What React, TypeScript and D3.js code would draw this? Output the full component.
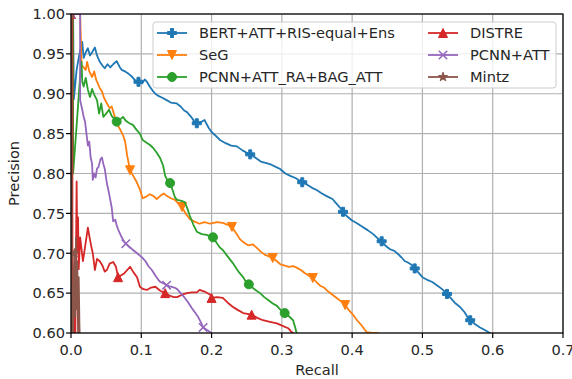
import React, { useEffect, useRef } from 'react';
import * as d3 from 'd3';

type Pt = [number, number];

// recall, precision pairs
const bertAttRis: Pt[] = [
  [0, 1.0], [0.003, 1.0], [0.004, 0.893], [0.008, 0.93], [0.012, 0.95], [0.016, 0.965], [0.018, 0.945],
  [0.021, 0.952], [0.024, 0.957], [0.027, 0.948], [0.03, 0.952], [0.034, 0.958], [0.037, 0.948],
  [0.041, 0.94], [0.045, 0.935], [0.048, 0.932], [0.052, 0.937], [0.056, 0.933], [0.06, 0.937],
  [0.065, 0.941], [0.069, 0.934], [0.072, 0.93], [0.077, 0.928], [0.082, 0.925], [0.086, 0.922],
  [0.091, 0.917], [0.096, 0.915], [0.101, 0.913], [0.105, 0.918], [0.108, 0.915], [0.112, 0.909],
  [0.117, 0.903], [0.12, 0.9], [0.125, 0.897], [0.13, 0.895], [0.136, 0.892], [0.142, 0.889],
  [0.15, 0.888], [0.156, 0.884], [0.161, 0.879], [0.165, 0.877], [0.17, 0.872], [0.175, 0.866],
  [0.179, 0.863], [0.184, 0.864], [0.19, 0.867], [0.196, 0.857], [0.2, 0.852], [0.205, 0.848],
  [0.212, 0.842], [0.22, 0.838], [0.228, 0.835], [0.236, 0.834], [0.244, 0.829], [0.25, 0.826],
  [0.255, 0.824], [0.262, 0.82], [0.27, 0.815], [0.278, 0.813], [0.285, 0.811], [0.292, 0.808],
  [0.297, 0.806], [0.305, 0.8], [0.312, 0.797], [0.32, 0.794], [0.329, 0.789], [0.336, 0.786],
  [0.343, 0.782], [0.35, 0.779], [0.357, 0.775], [0.365, 0.771], [0.372, 0.768], [0.378, 0.762],
  [0.383, 0.757], [0.387, 0.752], [0.393, 0.746], [0.4, 0.741], [0.408, 0.737], [0.415, 0.733],
  [0.422, 0.729], [0.43, 0.724], [0.436, 0.719], [0.442, 0.715], [0.448, 0.709], [0.454, 0.705],
  [0.46, 0.703], [0.464, 0.7], [0.47, 0.695], [0.475, 0.69], [0.478, 0.689], [0.484, 0.686],
  [0.489, 0.681], [0.495, 0.675], [0.5, 0.67], [0.506, 0.667], [0.514, 0.664], [0.522, 0.659],
  [0.528, 0.655], [0.535, 0.649], [0.54, 0.644], [0.546, 0.638], [0.553, 0.633], [0.56, 0.626],
  [0.564, 0.62], [0.568, 0.616], [0.575, 0.611], [0.582, 0.607], [0.588, 0.604], [0.596, 0.6],
  [0.6, 0.597],
];
const bertMarks = [0.096, 0.179, 0.255, 0.329, 0.387, 0.442, 0.489, 0.535, 0.568];

const seg: Pt[] = [
  [0, 1.0], [0.013, 1.0], [0.014, 0.97], [0.015, 0.936], [0.018, 0.933], [0.021, 0.93], [0.023, 0.94],
  [0.026, 0.928], [0.03, 0.921], [0.033, 0.928], [0.036, 0.917], [0.041, 0.907], [0.044, 0.903],
  [0.047, 0.895], [0.051, 0.888], [0.055, 0.882], [0.058, 0.884], [0.061, 0.875], [0.065, 0.863],
  [0.07, 0.855], [0.074, 0.848], [0.077, 0.84], [0.08, 0.822], [0.084, 0.804], [0.088, 0.798],
  [0.093, 0.79], [0.098, 0.78], [0.102, 0.769], [0.107, 0.771], [0.112, 0.774], [0.117, 0.772],
  [0.122, 0.768], [0.127, 0.772], [0.132, 0.775], [0.136, 0.772], [0.142, 0.769], [0.148, 0.767],
  [0.153, 0.762], [0.158, 0.758], [0.163, 0.75], [0.169, 0.743], [0.175, 0.74], [0.183, 0.737],
  [0.19, 0.739], [0.198, 0.737], [0.208, 0.739], [0.216, 0.738], [0.222, 0.736], [0.229, 0.733],
  [0.235, 0.725], [0.24, 0.718], [0.245, 0.714], [0.252, 0.71], [0.259, 0.711], [0.264, 0.707],
  [0.27, 0.702], [0.276, 0.698], [0.282, 0.696], [0.287, 0.694], [0.293, 0.69], [0.298, 0.686],
  [0.302, 0.685], [0.31, 0.683], [0.316, 0.684], [0.321, 0.682], [0.327, 0.679], [0.333, 0.675],
  [0.338, 0.672], [0.344, 0.669], [0.35, 0.663], [0.355, 0.659], [0.36, 0.657], [0.366, 0.652],
  [0.372, 0.648], [0.378, 0.644], [0.384, 0.64], [0.39, 0.635], [0.396, 0.628], [0.402, 0.622],
  [0.407, 0.616], [0.413, 0.61], [0.418, 0.604], [0.421, 0.601], [0.428, 0.6], [0.437, 0.6],
  [0.44, 0.597],
];
const segMarks = [0.084, 0.158, 0.229, 0.287, 0.344, 0.39];

const pcnnRaBag: Pt[] = [
  [0, 1.0], [0.003, 1.0], [0.003, 0.8], [0.008, 0.86], [0.012, 0.91], [0.015, 0.94], [0.016, 0.915],
  [0.018, 0.909], [0.021, 0.92], [0.024, 0.905], [0.027, 0.896], [0.03, 0.906], [0.033, 0.899],
  [0.037, 0.892], [0.04, 0.875], [0.043, 0.888], [0.046, 0.871], [0.05, 0.875], [0.054, 0.88],
  [0.058, 0.872], [0.062, 0.868], [0.065, 0.865], [0.069, 0.867], [0.074, 0.871], [0.078, 0.866],
  [0.083, 0.863], [0.088, 0.861], [0.093, 0.855], [0.098, 0.85], [0.102, 0.842], [0.107, 0.839],
  [0.112, 0.836], [0.117, 0.832], [0.122, 0.826], [0.127, 0.819], [0.131, 0.81], [0.134, 0.797],
  [0.137, 0.792], [0.141, 0.788], [0.145, 0.778], [0.148, 0.77], [0.151, 0.767], [0.156, 0.766],
  [0.162, 0.764], [0.166, 0.755], [0.169, 0.747], [0.174, 0.736], [0.179, 0.727], [0.186, 0.724],
  [0.193, 0.723], [0.202, 0.72], [0.208, 0.712], [0.212, 0.707], [0.216, 0.704], [0.222, 0.697],
  [0.23, 0.688], [0.236, 0.68], [0.24, 0.675], [0.245, 0.67], [0.249, 0.664], [0.253, 0.661],
  [0.258, 0.657], [0.264, 0.653], [0.269, 0.65], [0.275, 0.645], [0.281, 0.641], [0.287, 0.637],
  [0.293, 0.634], [0.299, 0.628], [0.304, 0.625], [0.31, 0.621], [0.316, 0.616], [0.319, 0.607],
  [0.321, 0.6], [0.322, 0.595],
];
const pcnnRaBagMarks = [0.065, 0.141, 0.202, 0.253, 0.304];

const distre: Pt[] = [
  [0, 1.0], [0.002, 1.0], [0.002, 0.56], [0.004, 0.63], [0.006, 0.58], [0.008, 0.79], [0.009, 0.7],
  [0.01, 0.745], [0.011, 0.68], [0.013, 0.72], [0.015, 0.705], [0.017, 0.69], [0.02, 0.708],
  [0.022, 0.72], [0.024, 0.732], [0.027, 0.717], [0.029, 0.708], [0.031, 0.7], [0.034, 0.679],
  [0.037, 0.693], [0.041, 0.69], [0.045, 0.684], [0.048, 0.677], [0.051, 0.679], [0.055, 0.687],
  [0.06, 0.689], [0.064, 0.683], [0.067, 0.67], [0.071, 0.672], [0.076, 0.675], [0.08, 0.679],
  [0.084, 0.683], [0.089, 0.676], [0.094, 0.67], [0.098, 0.658], [0.103, 0.655], [0.108, 0.654],
  [0.114, 0.657], [0.12, 0.658], [0.127, 0.653], [0.134, 0.65], [0.14, 0.647], [0.146, 0.645],
  [0.151, 0.645], [0.158, 0.648], [0.165, 0.65], [0.172, 0.651], [0.179, 0.651], [0.183, 0.654],
  [0.19, 0.652], [0.198, 0.648], [0.2, 0.644], [0.208, 0.645], [0.216, 0.644], [0.223, 0.638],
  [0.23, 0.633], [0.237, 0.629], [0.245, 0.625], [0.251, 0.624], [0.257, 0.623], [0.265, 0.619],
  [0.273, 0.616], [0.283, 0.614], [0.293, 0.612], [0.301, 0.609], [0.309, 0.606], [0.313, 0.602],
  [0.316, 0.6], [0.318, 0.595],
];
const distreMarks = [0, 0.067, 0.134, 0.2, 0.257];

const pcnnAtt: Pt[] = [
  [0, 1.0], [0.013, 1.0], [0.013, 0.892], [0.016, 0.88], [0.018, 0.871], [0.02, 0.865], [0.022, 0.85],
  [0.024, 0.835], [0.026, 0.84], [0.028, 0.82], [0.03, 0.812], [0.031, 0.792], [0.033, 0.8],
  [0.035, 0.795], [0.037, 0.806], [0.039, 0.808], [0.042, 0.818], [0.044, 0.82], [0.046, 0.812],
  [0.048, 0.806], [0.051, 0.788], [0.053, 0.78], [0.055, 0.771], [0.058, 0.757], [0.06, 0.74],
  [0.063, 0.742], [0.065, 0.735], [0.067, 0.73], [0.071, 0.722], [0.074, 0.717], [0.078, 0.712],
  [0.082, 0.709], [0.087, 0.705], [0.094, 0.7], [0.098, 0.697], [0.102, 0.694], [0.106, 0.69],
  [0.11, 0.684], [0.115, 0.679], [0.12, 0.672], [0.124, 0.667], [0.127, 0.664], [0.132, 0.662],
  [0.136, 0.66], [0.142, 0.658], [0.147, 0.657], [0.151, 0.655], [0.156, 0.65], [0.162, 0.644],
  [0.167, 0.638], [0.172, 0.631], [0.177, 0.625], [0.181, 0.62], [0.185, 0.613], [0.188, 0.607],
  [0.193, 0.604], [0.2, 0.6], [0.203, 0.597],
];
const pcnnAttMarks = [0, 0.078, 0.136, 0.188];

const mintz: Pt[] = [
  [0, 1.0], [0.001, 1.0], [0.001, 0.57], [0.002, 0.66], [0.003, 0.59], [0.004, 0.68], [0.005, 0.7],
  [0.006, 0.62], [0.007, 0.72], [0.008, 0.63], [0.009, 0.69], [0.01, 0.6], [0.011, 0.67],
  [0.012, 0.61], [0.013, 0.58],
];
const mintzMarks = [0, 0.005];

const seriesNames = ['BERT+ATT+RIS-equal+Ens', 'SeG', 'PCNN+ATT_RA+BAG_ATT', 'DISTRE', 'PCNN+ATT', 'Mintz'];
const seriesColors = ['#1f77b4', '#ff7f0e', '#2ca02c', '#d62728', '#9467bd', '#8c564b'];
const seriesMarkers = ['plus', 'triDown', 'circle', 'triUp', 'x', 'star'];
const seriesData = [bertAttRis, seg, pcnnRaBag, distre, pcnnAtt, mintz];
const seriesMarks = [bertMarks, segMarks, pcnnRaBagMarks, distreMarks, pcnnAttMarks, mintzMarks];

const xTicks = [0, 0.1, 0.2, 0.3, 0.4, 0.5, 0.6, 0.7];
const yTicks = [0.6, 0.65, 0.7, 0.75, 0.8, 0.85, 0.9, 0.95, 1.0];

const W = 572;
const H = 379;
const FONT = '"DejaVu Sans", sans-serif';
const FS = 14.6;

const markerPath = (kind: string, r: number): string => {
  if (kind === 'plus') {
    const a = r / 3;
    return `M${-a},${-r}L${a},${-r}L${a},${-a}L${r},${-a}L${r},${a}L${a},${a}L${a},${r}L${-a},${r}L${-a},${a}L${-r},${a}L${-r},${-a}L${-a},${-a}Z`;
  }
  if (kind === 'triDown') return `M${-r},${-r}L${r},${-r}L0,${r}Z`;
  if (kind === 'triUp') return `M0,${-r}L${r},${r}L${-r},${r}Z`;
  if (kind === 'x') return `M${-r},${-r}L${r},${r}M${-r},${r}L${r},${-r}`;
  if (kind === 'star') {
    const pts: string[] = [];
    for (let i = 0; i < 10; i++) {
      const rr = i % 2 === 0 ? r * 1.05 : r * 0.42;
      const a = (i * Math.PI) / 5;
      pts.push(`${rr * Math.sin(a)},${-rr * Math.cos(a)}`);
    }
    return 'M' + pts.join('L') + 'Z';
  }
  return d3.symbol(d3.symbolCircle, Math.PI * r * r)() as string;
};

const App: React.FC = () => {
  const svgRef = useRef<SVGSVGElement>(null);

  useEffect(() => {
    if (!svgRef.current) return;
    const svg = d3.select(svgRef.current);
    svg.selectAll('*').remove();

    const margin = { top: 14, right: 9, bottom: 46, left: 71 };
    const width = W - margin.left - margin.right;
    const height = H - margin.top - margin.bottom;

    const x = d3.scaleLinear().domain([0, 0.7]).range([0, width]);
    const y = d3.scaleLinear().domain([0.6, 1.0]).range([height, 0]);

    svg.append('rect').attr('width', W).attr('height', H).attr('fill', '#fff');

    const defs = svg.append('defs');
    defs.append('clipPath').attr('id', 'plot-clip')
      .append('rect').attr('width', width).attr('height', height);

    const g = svg.append('g').attr('transform', `translate(${margin.left},${margin.top})`);

    // grid
    g.append('g').selectAll('line').data(xTicks).join('line')
      .attr('x1', d => x(d)).attr('x2', d => x(d)).attr('y1', 0).attr('y2', height)
      .attr('stroke', '#b0b0b0').attr('stroke-width', 1.2);
    g.append('g').selectAll('line').data(yTicks).join('line')
      .attr('y1', d => y(d)).attr('y2', d => y(d)).attr('x1', 0).attr('x2', width)
      .attr('stroke', '#b0b0b0').attr('stroke-width', 1.2);

    const plot = g.append('g').attr('clip-path', 'url(#plot-clip)');
    const line = d3.line<Pt>().x(d => x(d[0])).y(d => y(d[1]));

    seriesData.forEach((pts, i) => {
      const color = seriesColors[i];
      plot.append('path').datum(pts)
        .attr('d', line)
        .attr('fill', 'none')
        .attr('stroke', color)
        .attr('stroke-width', 1.8)
        .attr('stroke-linejoin', 'round');

      const markPts = seriesMarks[i].map(r => {
        let best = pts[0];
        pts.forEach(p => { if (Math.abs(p[0] - r) < Math.abs(best[0] - r)) best = p; });
        return best;
      });
      const isX = seriesMarkers[i] === 'x';
      plot.append('g').selectAll('path').data(markPts).join('path')
        .attr('transform', d => `translate(${x(d[0])},${y(d[1])})`)
        .attr('d', markerPath(seriesMarkers[i], isX ? 4.2 : 4.5))
        .attr('fill', isX ? 'none' : color)
        .attr('stroke', color)
        .attr('stroke-width', isX ? 1.5 : 1);
    });

    // spines
    g.append('rect').attr('width', width).attr('height', height)
      .attr('fill', 'none').attr('stroke', '#000').attr('stroke-width', 1.2);

    // ticks
    g.append('g').selectAll('line').data(xTicks).join('line')
      .attr('x1', d => x(d)).attr('x2', d => x(d)).attr('y1', height).attr('y2', height + 5)
      .attr('stroke', '#000').attr('stroke-width', 1.2);
    g.append('g').selectAll('line').data(yTicks).join('line')
      .attr('y1', d => y(d)).attr('y2', d => y(d)).attr('x1', -5).attr('x2', 0)
      .attr('stroke', '#000').attr('stroke-width', 1.2);

    g.append('g').selectAll('text').data(xTicks).join('text')
      .attr('x', d => x(d)).attr('y', height + 22)
      .attr('text-anchor', 'middle')
      .style('font-family', FONT).style('font-size', `${FS}px`).attr('fill', '#262626')
      .text(d => d3.format('.1f')(d));
    g.append('g').selectAll('text').data(yTicks).join('text')
      .attr('x', -6).attr('y', d => y(d)).attr('dy', '0.36em')
      .attr('text-anchor', 'end')
      .style('font-family', FONT).style('font-size', `${FS}px`).attr('fill', '#262626')
      .text(d => d3.format('.2f')(d));

    svg.append('text')
      .attr('x', margin.left + width / 2).attr('y', 375)
      .attr('text-anchor', 'middle')
      .style('font-family', FONT).style('font-size', `${FS}px`).attr('fill', '#262626')
      .text('Recall');
    svg.append('text')
      .attr('transform', `translate(19,${margin.top + height / 2}) rotate(-90)`)
      .attr('text-anchor', 'middle')
      .style('font-family', FONT).style('font-size', `${FS}px`).attr('fill', '#262626')
      .text('Precision');

    // legend
    const lg = svg.append('g');
    lg.append('rect')
      .attr('x', 153).attr('y', 22).attr('width', 403).attr('height', 66)
      .attr('rx', 3)
      .attr('fill', '#fff').attr('fill-opacity', 0.8)
      .attr('stroke', '#cccccc').attr('stroke-width', 1);
    seriesNames.forEach((name, i) => {
      const col = Math.floor(i / 3);
      const row = i % 3;
      const lx = col === 0 ? 157 : 428;
      const ly = 33 + row * 22;
      const color = seriesColors[i];
      const isX = seriesMarkers[i] === 'x';
      lg.append('line').attr('x1', lx).attr('x2', lx + 30).attr('y1', ly).attr('y2', ly)
        .attr('stroke', color).attr('stroke-width', 1.8);
      lg.append('path').attr('transform', `translate(${lx + 15},${ly})`)
        .attr('d', markerPath(seriesMarkers[i], isX ? 4.2 : 4.5))
        .attr('fill', isX ? 'none' : color)
        .attr('stroke', color).attr('stroke-width', isX ? 1.5 : 1);
      lg.append('text').attr('x', lx + 42).attr('y', ly).attr('dy', '0.36em')
        .style('font-family', FONT).style('font-size', `${FS}px`).attr('fill', '#262626')
        .text(name);
    });
  }, []);

  return (
    <div style={{ position: 'absolute', left: 0, top: 0 }}>
      <svg ref={svgRef} width={W} height={H} style={{ display: 'block' }} />
    </div>
  );
};

export default App;
